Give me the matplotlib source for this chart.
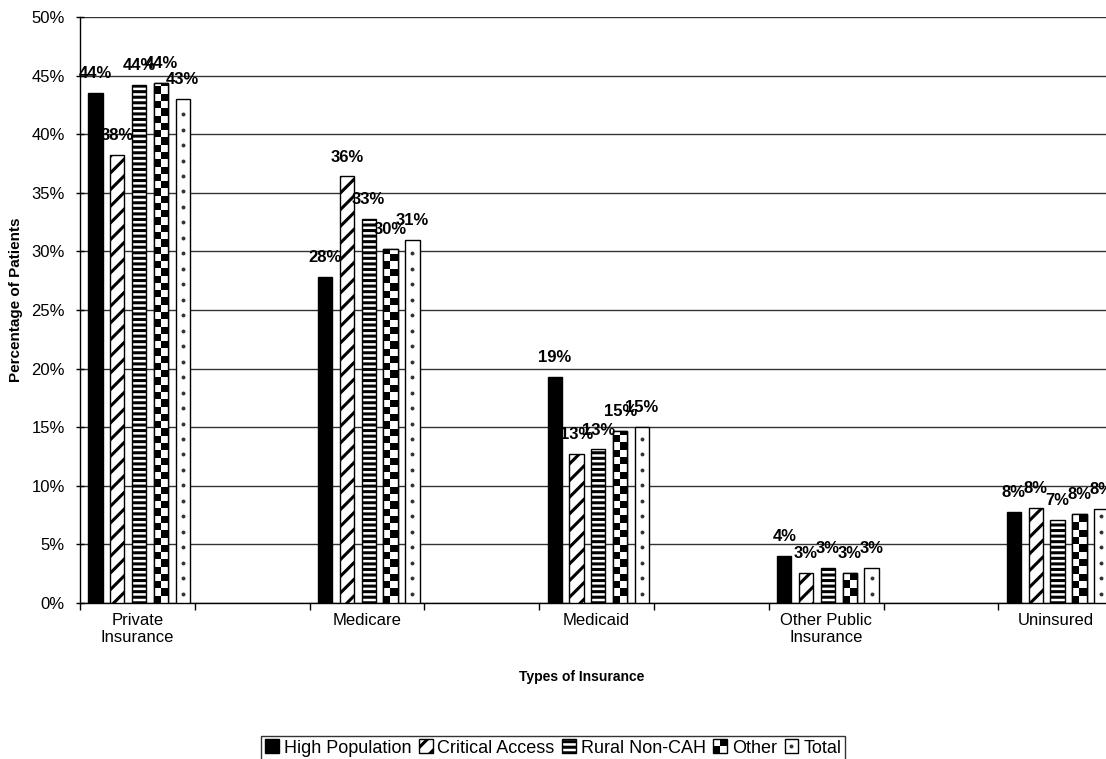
import numpy as np
import matplotlib
matplotlib.use("Agg")
import matplotlib.pyplot as plt
from matplotlib.patches import Rectangle
from matplotlib.lines import Line2D
from matplotlib.legend_handler import HandlerBase

plt.rcParams['font.family'] = ['Liberation Sans', 'DejaVu Sans']
plt.rcParams['hatch.linewidth'] = 2.2

categories = ["Private\nInsurance", "Medicare", "Medicaid", "Other Public\nInsurance", "Uninsured"]
series_names = ["High Population", "Critical Access", "Rural Non-CAH", "Other", "Total"]
high_population = [43.5, 27.8, 19.3, 4.0, 7.8]
critical_access = [38.2, 36.4, 12.7, 2.6, 8.1]
rural_non_cah = [44.2, 32.8, 13.1, 3.0, 7.1]
other = [44.4, 30.2, 14.7, 2.56, 7.6]
total = [43.0, 31.0, 15.0, 3.0, 8.0]
series_values = [high_population, critical_access, rural_non_cah, other, total]
y_ticks = [0, 5, 10, 15, 20, 25, 30, 35, 40, 45, 50]

W, H = 1106, 759
fig = plt.figure(figsize=(W / 100, H / 100), dpi=100)
ax = fig.add_axes([80 / W, 1 - 603 / H, 1148 / W, 586 / H])

styles = [
    dict(facecolor='black', hatch=None),
    dict(facecolor='white', hatch='//'),
    dict(facecolor='white', hatch='---'),
    dict(facecolor='white', hatch=None),   # checker drawn with image
    dict(facecolor='white', hatch=None),   # dots drawn with markers
]

n_slots = 2 * len(categories)
step = 0.19
bw = 0.125
center = 0.515

checker_sq = 0.62  # checker square size in % units
dot_step = 1.32    # dot spacing in % units

for k, (name, vals) in enumerate(zip(series_names, series_values)):
    xs = np.arange(len(categories)) * 2 + center + (k - 2) * step
    bars = ax.bar(xs, vals, width=bw, edgecolor='black', linewidth=1.0,
                  facecolor=styles[k]['facecolor'], hatch=styles[k]['hatch'],
                  zorder=3)
    for b, v in zip(bars, vals):
        x0 = b.get_x()
        if k == 3:
            nrows = max(1, int(np.ceil(v / checker_sq)))
            arr = (np.add.outer(np.arange(nrows), np.arange(2)) % 2).astype(float)
            im = ax.imshow(arr, cmap='gray', interpolation='nearest', aspect='auto',
                           origin='lower',
                           extent=(x0, x0 + bw, 0, nrows * checker_sq), zorder=3.5)
            im.set_clip_path(b)
            ax.add_patch(Rectangle((x0, 0), bw, v, fill=False, edgecolor='black',
                                   linewidth=1.0, zorder=4))
        if k == 4:
            ys = np.arange(dot_step * 0.6, v, dot_step)
            ax.plot(np.full(len(ys), x0 + bw / 2), ys, linestyle='none',
                    marker='o', markersize=1.8, color='#333333', zorder=4)
        ax.annotate(f"{int(v + 0.5)}%", (x0 + bw / 2, v),
                    xytext=(0, 8.5), textcoords='offset points',
                    ha='center', va='bottom', fontsize=12, fontweight='bold',
                    zorder=5, annotation_clip=False)

ax.set_xlim(0, n_slots)
ax.set_ylim(0, 50)
ax.set_yticks(y_ticks)
ax.set_yticklabels([f"{t}%" for t in y_ticks], fontsize=12)
ax.set_xticks(np.arange(0, n_slots + 1))
ax.set_xticklabels([])
ax.set_xticks(np.arange(len(categories)) * 2 + 0.5, minor=True)
ax.set_xticklabels(categories, minor=True, fontsize=12)
ax.tick_params(axis='x', which='major', length=5, direction='out', width=1)
ax.tick_params(axis='x', which='minor', length=0, pad=7)
ax.tick_params(axis='y', length=6, direction='inout', width=1, pad=8)
ax.grid(axis='y', color='#333333', linewidth=1.0, zorder=0)
ax.set_axisbelow(True)
for s in ['top', 'right']:
    ax.spines[s].set_visible(False)
for s in ['left', 'bottom']:
    ax.spines[s].set_linewidth(1.0)
    ax.spines[s].set_color('black')

fig.text(582 / W, 1 - 677 / H, "Types of Insurance", ha='center', va='center',
         fontsize=10, fontweight='bold')
fig.text(16 / W, 1 - 300 / H, "Percentage of Patients", ha='center', va='center',
         rotation=90, fontsize=11, fontweight='bold')


class CheckerHandler(HandlerBase):
    def create_artists(self, legend, orig_handle, xdescent, ydescent, width,
                       height, fontsize, trans):
        s = min(width, height)
        x0 = -xdescent + (width - s) / 2
        y0 = -ydescent + (height - s) / 2
        arts = []
        h = s / 2
        for (i, j) in [(0, 0), (1, 1)]:
            arts.append(Rectangle((x0 + i * h, y0 + j * h), h, h, facecolor='black',
                                  edgecolor='none', transform=trans))
        arts.append(Rectangle((x0, y0), s, s, fill=False, edgecolor='black',
                              linewidth=1.0, transform=trans))
        return arts


class SquareHandler(HandlerBase):
    def __init__(self, dot=False):
        super().__init__()
        self.dot = dot

    def create_artists(self, legend, orig_handle, xdescent, ydescent, width,
                       height, fontsize, trans):
        s = min(width, height)
        x0 = -xdescent + (width - s) / 2
        y0 = -ydescent + (height - s) / 2
        arts = [Rectangle((x0, y0), s, s, facecolor=orig_handle.get_facecolor(),
                          edgecolor='black', linewidth=1.0,
                          hatch=orig_handle.get_hatch(), transform=trans)]
        if self.dot:
            arts.append(Line2D([x0 + s / 2], [y0 + s / 2], marker='o',
                               markersize=1.8, color='#333333', linestyle='none',
                               transform=trans))
        return arts


handles = []
handler_map = {}
for k, name in enumerate(series_names):
    p = Rectangle((0, 0), 1, 1, facecolor=styles[k]['facecolor'],
                  hatch=styles[k]['hatch'], edgecolor='black')
    handles.append(p)
    if k == 3:
        handler_map[p] = CheckerHandler()
    else:
        handler_map[p] = SquareHandler(dot=(k == 4))

leg = fig.legend(handles, series_names, handler_map=handler_map, loc='center',
                 bbox_to_anchor=(553 / W, 1 - 748 / H), ncol=5, fontsize=13,
                 frameon=True, fancybox=False, edgecolor='black',
                 handlelength=0.8, handleheight=0.8, handletextpad=0.25,
                 columnspacing=0.4, borderpad=0.2, borderaxespad=0)
leg.get_frame().set_linewidth(1.0)

fig.savefig("out.png", dpi=100)
